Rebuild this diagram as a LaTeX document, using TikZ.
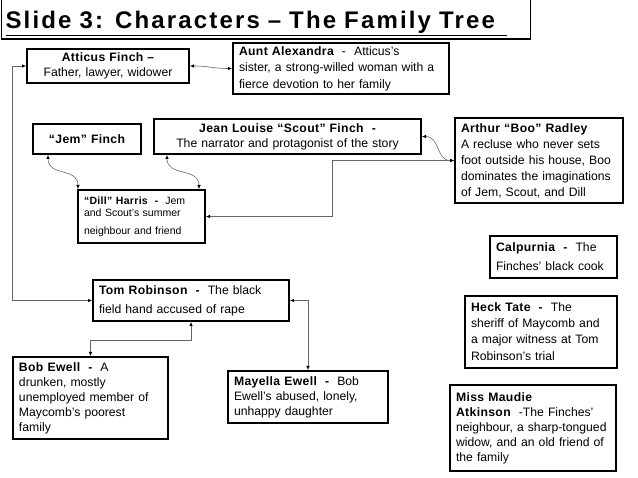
\documentclass[tikz,border=0pt]{standalone}
\usepackage{fontspec}
\setmainfont{Liberation Sans}
\newfontface\namefont{Liberation Sans Bold}[LetterSpace=3]
\newfontface\titlefont{Liberation Sans Bold}[LetterSpace=9]
\usetikzlibrary{arrows.meta}
\hyphenpenalty=10000

\begin{document}
\begin{tikzpicture}[x=1pt, y=-1pt,
  titlebox/.style={draw, line width=1.6pt, anchor=north west, inner xsep=4pt, inner ysep=0pt, text height=27pt, text depth=6pt, align=left, font=\fontsize{24}{28}\titlefont},
  charbox/.style={draw, line width=2pt, anchor=north west, inner xsep=6pt, inner ysep=0pt, align=left, font=\fontsize{12.2}{15}\selectfont},
  link/.style={{Latex[length=4pt,width=3.5pt,color=black]}-{Latex[length=4pt,width=3.5pt,color=black]}, draw=black!60, line width=0.6pt}
]
\useasboundingbox (0,0) rectangle (638,478);
\node[titlebox, minimum width=529pt, minimum height=41pt, text width=521pt] (title) at (0.8,-3) {\underline{Slide 3: Characters – The Family Tree\hspace{12pt}}};
\node[charbox, minimum width=162pt, minimum height=34pt, text width=150pt, align=center] (atticus) at (26,48) {{\namefont Atticus Finch –}\\Father, lawyer, widower};
\node[charbox, minimum width=216pt, minimum height=51pt, text width=204pt] (aunt) at (232,42) {{\namefont Aunt Alexandra}\ \ -\ \ Atticus’s\\[1.5pt]sister, a strong-willed woman with a\\[1.5pt]fierce devotion to her family};
\node[charbox, minimum width=108pt, minimum height=30pt, text width=96pt, align=center] (jem) at (32,123) {\namefont “Jem” Finch};
\node[charbox, minimum width=267pt, minimum height=35pt, text width=255pt, align=center] (scout) at (153,118) {{\namefont Jean Louise “Scout” Finch\ \ -}\\The narrator and protagonist of the story};
\node[charbox, minimum width=168pt, minimum height=85pt, text width=156pt] (boo) at (454,117) {{\namefont Arthur “Boo” Radley}\\[1pt]A recluse who never sets\\[1pt]foot outside his house, Boo\\[1pt]dominates the imaginations\\[1pt]of Jem, Scout, and Dill};
\node[charbox, minimum width=127pt, minimum height=53pt, text width=115pt, font=\fontsize{10.5}{12}\selectfont] (dill) at (77,189) {{\namefont “Dill” Harris\ \ -}\ \ Jem\\and Scout’s summer\\[6pt]neighbour and friend};
\node[charbox, minimum width=127pt, minimum height=42pt, text width=115pt] (calpurnia) at (489,235) {{\namefont Calpurnia\ \ -}\ \ The\\[4pt]Finches’ black cook};
\node[charbox, minimum width=196pt, minimum height=41pt, text width=184pt] (tom) at (92,279) {{\namefont Tom Robinson\ \ -}\ \ The black\\[4pt]field hand accused of rape};
\node[charbox, minimum width=152pt, minimum height=72pt, text width=140pt] (heck) at (464,295) {{\namefont Heck Tate\ \ -}\ \ The\\[1pt]sheriff of Maycomb and\\[1pt]a major witness at Tom\\[2pt]Robinson’s trial};
\node[charbox, minimum width=155pt, minimum height=82pt, text width=143pt] (bob) at (12,356) {{\namefont Bob Ewell\ \ -}\ \ A\\drunken, mostly\\unemployed member of\\Maycomb’s poorest\\family};
\node[charbox, minimum width=160pt, minimum height=52pt, text width=148pt] (mayella) at (227,370) {{\namefont Mayella Ewell\ \ -}\ \ Bob\\Ewell’s abused, lonely,\\unhappy daughter};
\node[charbox, minimum width=166pt, minimum height=86pt, text width=154pt] (maudie) at (449,384) {{\namefont Miss Maudie}\\{\namefont Atkinson}\ \ -The Finches’\\neighbour, a sharp-tongued\\widow, and an old friend of\\the family};
% family links
\draw[link] (atticus.west) -- ++(-14,0) |- (tom.west);
\draw[link] (atticus.east) .. controls +(20,0) and +(-20,0) .. (aunt.west);
\draw[link] (scout.east) .. controls +(18,0) and +(-18,0) .. (boo.west);
\draw[link] (dill.east) -- ++(126,0) |- (boo.west);
\draw[link] ([xshift=16pt]jem.south west) .. controls +(0,22) and +(0,-22) .. ([xshift=1pt]dill.north west);
\draw[link] ([xshift=14pt]scout.south west) .. controls +(0,22) and +(0,-22) .. ([xshift=-7pt]dill.north east);
% the trial
\draw[link] (tom.south) -- ++(0,18) -| (bob.north);
\draw[link] (tom.east) -| (mayella.north);
\end{tikzpicture}
\end{document}
